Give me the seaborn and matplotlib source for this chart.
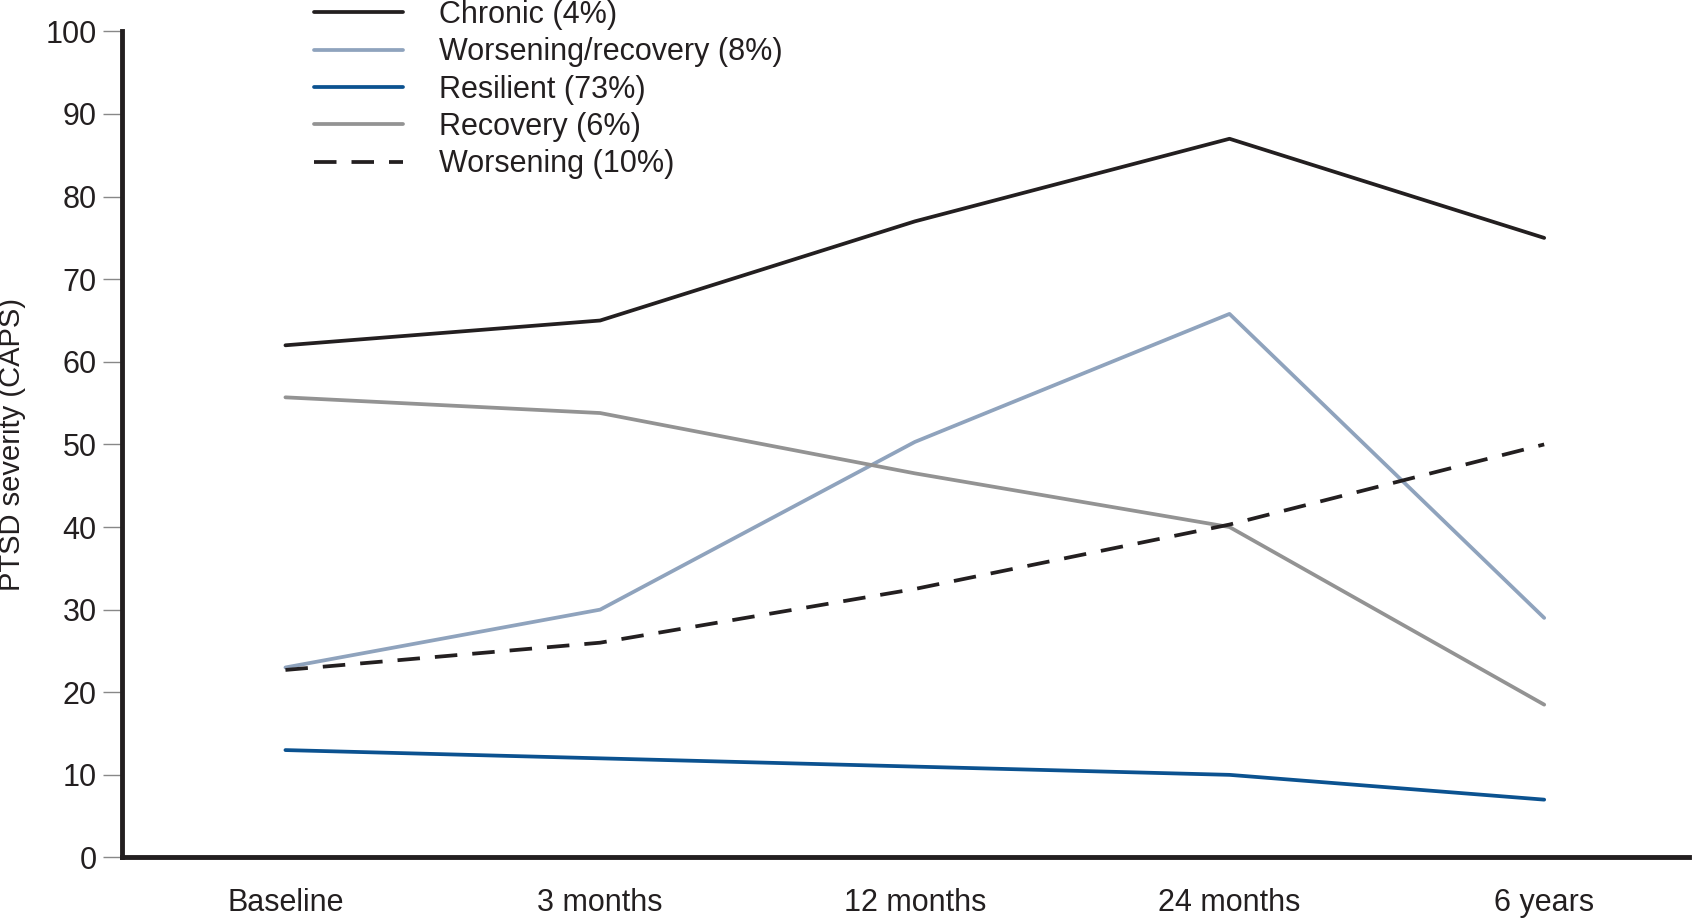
import pandas as pd
import matplotlib
matplotlib.use("Agg")
import matplotlib.pyplot as plt
import seaborn as sns

timepoints = ["Baseline", "3 months", "12 months", "24 months", "6 years"]
groups = ["Chronic (4%)", "Worsening/recovery (8%)", "Resilient (73%)",
          "Recovery (6%)", "Worsening (10%)"]
chronic = [62, 65, 77, 87, 75]
worsening_recovery = [23, 30, 50.3, 65.8, 29]
resilient = [13, 12, 11, 10, 7]
recovery = [55.7, 53.8, 46.5, 40, 18.5]
worsening = [22.7, 26, 32.5, 40.3, 50]

colors = {"Chronic (4%)": "#231f20",
          "Worsening/recovery (8%)": "#8fa3bd",
          "Resilient (73%)": "#0b5290",
          "Recovery (6%)": "#939393",
          "Worsening (10%)": "#231f20"}
dashes = {"Chronic (4%)": "",
          "Worsening/recovery (8%)": "",
          "Resilient (73%)": "",
          "Recovery (6%)": "",
          "Worsening (10%)": (6, 4)}

rows = []
for g, vals in zip(groups, [chronic, worsening_recovery, resilient, recovery, worsening]):
    for t, v in zip(timepoints, vals):
        rows.append({"time": t, "score": v, "group": g})
df = pd.DataFrame(rows)

sns.set_style("ticks")
plt.rcParams['font.family'] = ['Liberation Sans', 'DejaVu Sans']

fig = plt.figure(figsize=(17.06, 9.23), dpi=100)
ax = fig.add_axes([0.0714, 0.071, 0.9186, 0.895])

sns.lineplot(data=df, x="time", y="score", hue="group", style="group",
             palette=colors, dashes=dashes, hue_order=groups, style_order=groups,
             linewidth=2.7, ax=ax, legend=True)

ax.set_xlim(-0.52, 4.46)
ax.set_ylim(0, 100)
ax.set_yticks(range(0, 101, 10))
ax.set_xlabel("")
ax.set_ylabel("PTSD severity (CAPS)", fontsize=21, color="#231f20", labelpad=14)
ax.tick_params(axis="y", length=14, width=1, color="#888888", labelsize=22,
               labelcolor="#231f20", pad=4)
ax.tick_params(axis="x", length=0, labelsize=22, labelcolor="#231f20", pad=22)
for s in ["left", "bottom"]:
    ax.spines[s].set_linewidth(3.5)
    ax.spines[s].set_color("#231f20")
sns.despine(ax=ax)

handles, labels = ax.get_legend_handles_labels()
ax.legend(handles, labels, loc="upper left", bbox_to_anchor=(0.184, 1.0),
          bbox_transform=fig.transFigure, frameon=False, fontsize=22,
          handlelength=2.9, handletextpad=1.2, labelspacing=0.24,
          borderaxespad=0, borderpad=0, labelcolor="#231f20")

fig.savefig("out.png", dpi=100)
